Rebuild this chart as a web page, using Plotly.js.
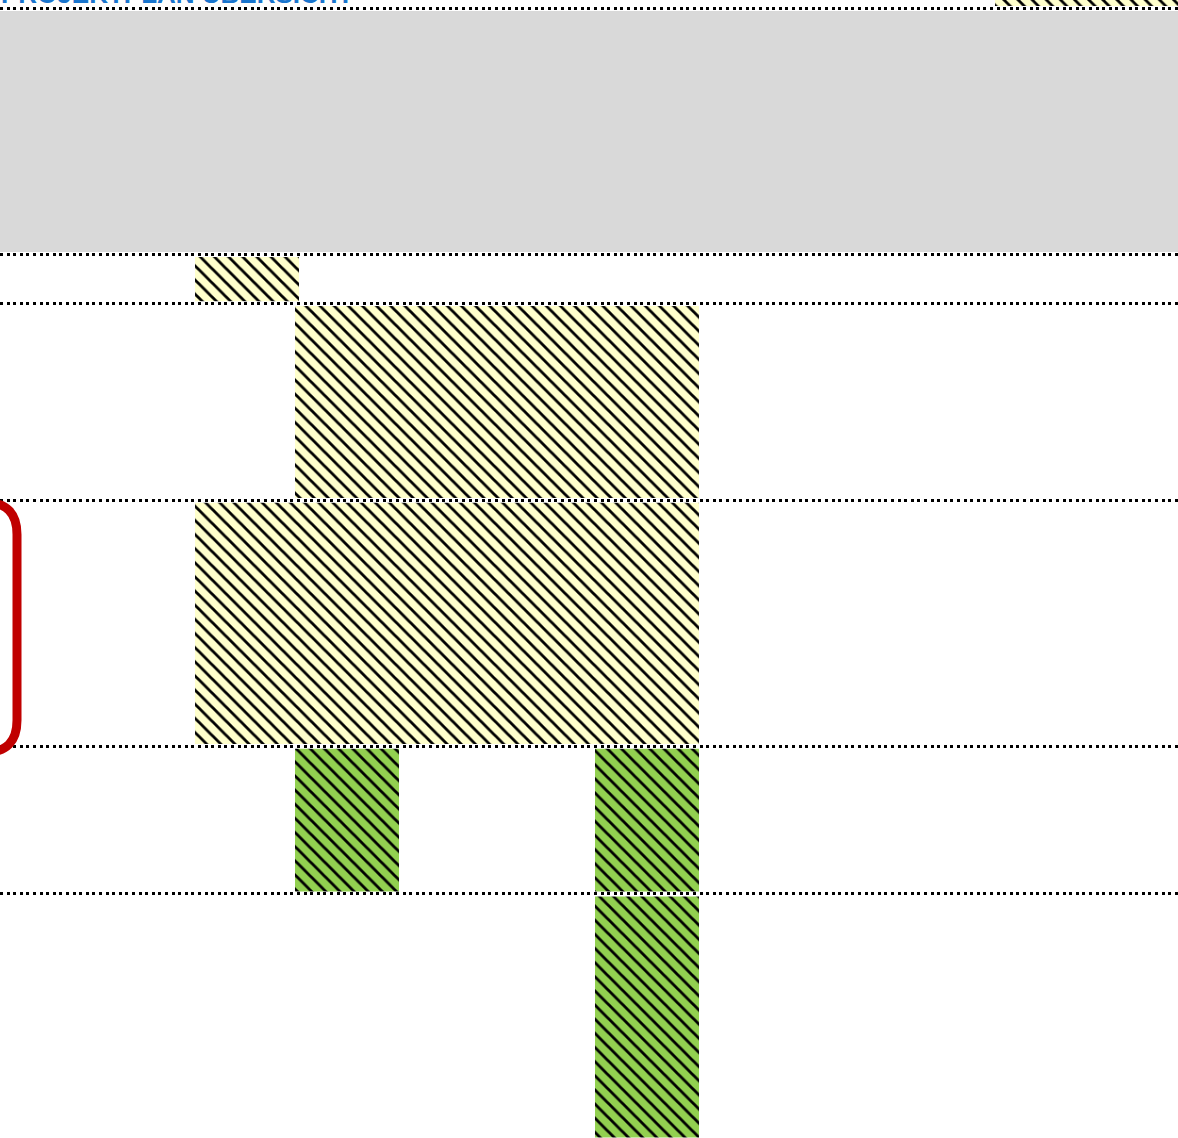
<!DOCTYPE html>
<html>
<head>
<meta charset="utf-8">
<script src="https://cdn.plot.ly/plotly-3.0.1.min.js"></script>
<style>
  html, body { margin: 0; padding: 0; background: #ffffff; overflow: hidden; }
  #chart { width: 1178px; height: 1138px; }
</style>
</head>
<body>
<div id="chart"></div>
<script>
// ---- data (columns / rows of the grid) ----
const titleText = "PROJEKTPLAN ÜBERSICHT";

// row boundaries of the grid (row units)
const rowEdges = [0, 5, 6, 10, 15, 18, 23];

// grey band row
const bandRowStart = [0];
const bandRowEnd = [5];
const bandColStart = [-1];
const bandColEnd = [14];

// yellow hatched blocks
const yellowRowStart = [-1, 5, 6, 10];
const yellowRowEnd   = [0, 6, 10, 15];
const yellowColStart = [10, 2, 3, 2];
const yellowColEnd   = [14, 3, 7, 7];

// green hatched blocks
const greenRowStart = [15, 15, 18];
const greenRowEnd   = [18, 18, 23];
const greenColStart = [3, 6, 6];
const greenColEnd   = [4, 7, 7];

// highlighted row (red rounded frame)
const highlightRowStart = 10;
const highlightRowEnd = 15;

// ---- styling ----
const COLORS = { grey: "#D9D9D9", yellow: "#FFFFCC", green: "#92D050", red: "#C00000", blue: "#1874CD" };
const X_RANGE = [0.03, 11.81];
const Y_RANGE = [22.962, -0.1728];
const ROW_GAP = 0.1;   // white gap around each row for the dotted line
const COL_PAD = 0.02;  // small overhang of blocks past column edges

function blockTrace(rs, re, cs, ce, color, hatched, name) {
  const y = rs.map((s, i) => (s + re[i]) / 2);
  const w = rs.map((s, i) => (re[i] - s) - ROW_GAP);
  const base = cs.map(c => c - COL_PAD);
  const x = cs.map((c, i) => (ce[i] - c) + 2 * COL_PAD);
  const marker = { color: color, line: { width: 0 } };
  if (hatched) {
    marker.pattern = { shape: "\\", size: 10, solidity: 0.28, fgcolor: "#000000", bgcolor: color, fillmode: "replace" };
  }
  return {
    type: "bar", orientation: "h", name: name,
    y: y, x: x, base: base, width: w,
    marker: marker, hoverinfo: "skip", showlegend: false
  };
}

const traces = [
  blockTrace(bandRowStart, bandRowEnd, bandColStart, bandColEnd, COLORS.grey, false, "band"),
  blockTrace(yellowRowStart, yellowRowEnd, yellowColStart, yellowColEnd, COLORS.yellow, true, "yellow"),
  blockTrace(greenRowStart, greenRowEnd, greenColStart, greenColEnd, COLORS.green, true, "green")
];

// red rounded frame around the highlighted row (left part runs off the page)
const pxX = (X_RANGE[1] - X_RANGE[0]) / 1178;
const pxY = (Y_RANGE[0] - Y_RANGE[1]) / 1138;
const xr = X_RANGE[0] + 17 * pxX;
const xl = X_RANGE[0] - 60 * pxX;
const yt = highlightRowStart + 2 * pxY;
const yb = highlightRowEnd + 6 * pxY;
const rx = 32 * pxX, ry = 32 * pxY;
const framePath = `M ${xl},${yt} L ${xr - rx},${yt} Q ${xr},${yt} ${xr},${yt + ry} ` +
                  `L ${xr},${yb - ry} Q ${xr},${yb} ${xr - rx},${yb} L ${xl},${yb}`;

const layout = {
  width: 1178, height: 1138,
  margin: { l: 0, r: 0, t: 0, b: 0, pad: 0 },
  paper_bgcolor: "#ffffff", plot_bgcolor: "#ffffff",
  barmode: "overlay",
  showlegend: false,
  xaxis: { range: X_RANGE, showgrid: false, zeroline: false, showticklabels: false, ticks: "", showline: false, fixedrange: true },
  yaxis: {
    range: Y_RANGE, tickmode: "array", tickvals: rowEdges,
    showgrid: true, gridcolor: "#000000", gridwidth: 3, griddash: "3px,3.6px",
    zeroline: false, showticklabels: false, ticks: "", showline: false, fixedrange: true
  },
  shapes: [
    { type: "path", xref: "x", yref: "y", path: framePath, line: { color: COLORS.red, width: 9 }, fillcolor: "rgba(0,0,0,0)", layer: "above" }
  ],
  annotations: [
    { text: "<b>" + titleText + "</b>", xref: "paper", yref: "paper", x: 0, y: 1 - 9.5 / 1138,
      xanchor: "left", yanchor: "bottom", showarrow: false, borderpad: 0,
      font: { family: "Liberation Sans, Arial, sans-serif", size: 26, color: COLORS.blue } }
  ]
};

Plotly.newPlot("chart", traces, layout, { displayModeBar: false, staticPlot: true });
</script>
</body>
</html>
